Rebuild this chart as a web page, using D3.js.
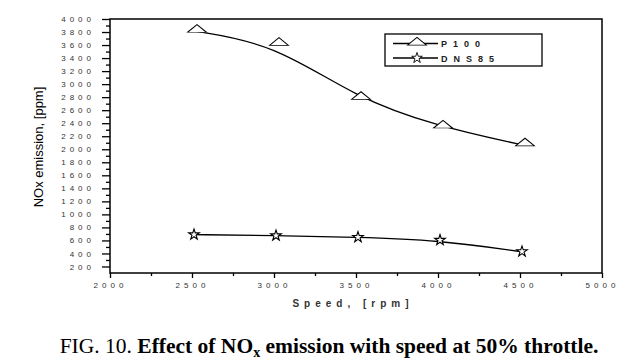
<!DOCTYPE html>
<html>
<head>
<meta charset="utf-8">
<script src="https://d3js.org/d3.v7.min.js"></script>
<style>
    body { margin: 0; background: #fff; }
    .tick text { font-family: "Liberation Sans", Arial, sans-serif; font-size: 8px; letter-spacing: 4px; fill: #333; }
    .line { fill: none; stroke: #000; stroke-width: 1.3px; }
</style>
</head>
<body>
<script>

// data
var speeds = [2500, 3000, 3500, 4000, 4500];
var p100 = [3820, 3620, 2790, 2350, 2075];
var dns85 = [690, 675, 650, 605, 430];
var seriesNames = ["P100", "DNS85"];
var xTicks = [2000, 2500, 3000, 3500, 4000, 4500, 5000];
var yTicks = d3.range(200, 4001, 200);

// set the dimensions and margins of the graph
var margin = { top: 19, right: 41, bottom: 89, left: 110 },
    width = 643 - margin.left - margin.right,
    height = 362 - margin.top - margin.bottom;

var x = d3.scaleLinear().domain([2000, 5000]).range([0, width]);
var y = d3.scaleLinear().domain([100, 4000]).range([height, 0]);

var valueline = d3.line()
    .curve(d3.curveBasis)
    .x(function (d) { return x(d.speed); })
    .y(function (d) { return y(d.nox); });

var svgRoot = d3.select("body").append("svg")
    .attr("width", 643)
    .attr("height", 362);

var svg = svgRoot.append("g")
    .attr("transform", "translate(" + margin.left + "," + margin.top + ")");

var dataP = speeds.map(function (s, i) { return { speed: s, nox: p100[i] }; });
var dataD = speeds.map(function (s, i) { return { speed: s, nox: dns85[i] }; });

// minor ticks
svg.append("g")
    .attr("transform", "translate(0," + height + ")")
    .call(d3.axisBottom(x).tickValues(d3.range(2250, 5000, 500)).tickSize(3).tickFormat(""))
    .call(function (g) { g.select(".domain").remove(); });
svg.append("g")
    .call(d3.axisLeft(y).tickValues(d3.range(300, 4000, 200)).tickSize(4).tickFormat(""))
    .call(function (g) { g.select(".domain").remove(); });

// X axis
svg.append("g")
    .attr("transform", "translate(0," + height + ")")
    .call(d3.axisBottom(x).tickValues(xTicks).tickSize(5).tickPadding(4).tickSizeOuter(0).tickFormat(d3.format("d")))
    .call(function (g) { g.select(".domain").remove(); });

// Y axis
svg.append("g")
    .call(d3.axisLeft(y).tickValues(yTicks).tickSize(8).tickPadding(7).tickSizeOuter(0).tickFormat(d3.format("d")))
    .call(function (g) { g.select(".domain").remove(); });

svg.selectAll(".tick line").attr("stroke", "#000").attr("stroke-width", 1.3);

// frame
svg.append("rect")
    .attr("width", width)
    .attr("height", height)
    .attr("fill", "none")
    .attr("stroke", "#000")
    .attr("stroke-width", 1.5);

// lines
svg.append("path").datum(dataP).attr("class", "line").attr("d", valueline);
svg.append("path").datum(dataD).attr("class", "line").attr("d", valueline);

var triangle = d3.symbol().type(d3.symbolTriangle).size(60);
var star = d3.symbol().type(d3.symbolStar).size(35);

svg.selectAll(".tri").data(dataP).enter().append("path")
    .attr("d", triangle)
    .attr("transform", function (d) { return "translate(" + (x(d.speed) + 5) + "," + (y(d.nox) - 1) + ") scale(1.6,0.75)"; })
    .attr("fill", "#fff").attr("stroke", "#000").attr("stroke-width", 0.9);

svg.selectAll(".star").data(dataD).enter().append("path")
    .attr("d", star)
    .attr("transform", function (d) { return "translate(" + (x(d.speed) + 2) + "," + y(d.nox) + ")"; })
    .attr("fill", "#fff").attr("stroke", "#000").attr("stroke-width", 1.1);

// legend
var legend = svgRoot.append("g").attr("transform", "translate(385,34)");
legend.append("rect")
    .attr("width", 157).attr("height", 32)
    .attr("fill", "#fff").attr("stroke", "#000").attr("stroke-width", 1.3);

seriesNames.forEach(function (name, i) {
    var ly = 9.5 + i * 14.5;
    legend.append("line")
        .attr("x1", 8).attr("x2", 53).attr("y1", ly).attr("y2", ly)
        .attr("stroke", "#000").attr("stroke-width", 1.3);
    legend.append("path")
        .attr("d", i === 0 ? triangle : star)
        .attr("transform", i === 0 ? "translate(32," + (ly - 1) + ") scale(1.6,0.75)" : "translate(32," + ly + ")")
        .attr("fill", "#fff").attr("stroke", "#000").attr("stroke-width", 0.9);
    legend.append("text")
        .attr("x", 56).attr("y", ly + 3.5)
        .style("font-family", "Liberation Sans, Arial, sans-serif")
        .style("font-size", "9px")
        .style("font-weight", "bold")
        .style("letter-spacing", "6px")
        .attr("fill", "#222")
        .text(name);
});

// axis titles
svgRoot.append("text")
    .attr("x", 353).attr("y", 307)
    .attr("text-anchor", "middle")
    .style("font-family", "Liberation Sans, Arial, sans-serif")
    .style("font-size", "10px")
    .style("font-weight", "bold")
    .style("letter-spacing", "5px")
    .attr("fill", "#333")
    .text("Speed, [rpm]");

svgRoot.append("text")
    .attr("transform", "translate(43,147) rotate(-90)")
    .attr("text-anchor", "middle")
    .style("font-family", "Liberation Sans, Arial, sans-serif")
    .style("font-size", "13px")
    .attr("fill", "#000")
    .text("NOx emission, [ppm]");

// caption
var cap = svgRoot.append("text")
    .attr("x", 329).attr("y", 353)
    .attr("text-anchor", "middle")
    .style("font-family", "Liberation Serif, Times New Roman, serif")
    .style("font-size", "21.5px")
    .attr("fill", "#000");
cap.append("tspan").text("FIG. 10. ");
cap.append("tspan").style("font-weight", "bold").text("Effect of NO");
cap.append("tspan").style("font-weight", "bold").style("font-size", "14px").attr("dy", 4).text("x");
cap.append("tspan").style("font-weight", "bold").attr("dy", -4).text(" emission with speed at 50% throttle.");

</script>
</body>
</html>
